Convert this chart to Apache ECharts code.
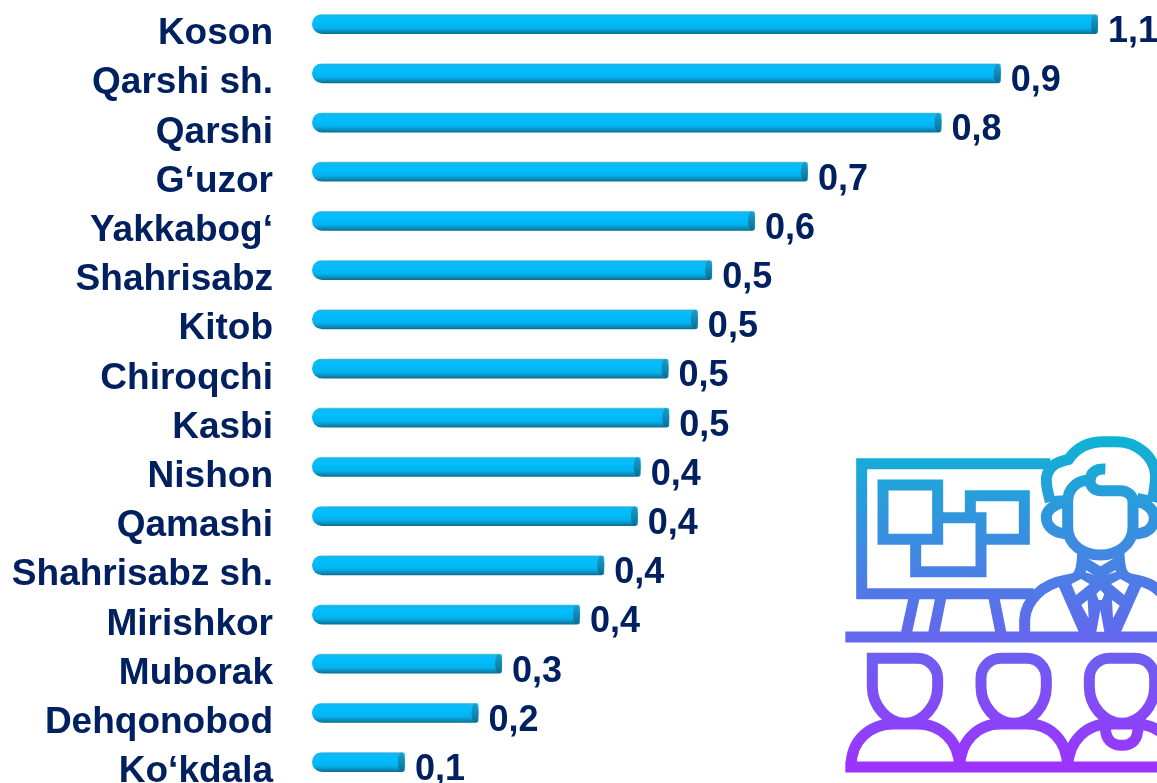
<!DOCTYPE html>
<html><head><meta charset="utf-8">
<style>html,body{margin:0;padding:0;background:#fff}#c{width:1157px;height:783px}</style>
<script src="https://cdn.jsdelivr.net/npm/echarts@6/dist/echarts.min.js"></script>
</head><body><div id="c"></div>
<script>
const categories = ['Koson','Qarshi sh.','Qarshi','G‘uzor','Yakkabog‘','Shahrisabz','Kitob','Chiroqchi','Kasbi','Nishon','Qamashi','Shahrisabz sh.','Mirishkor','Muborak','Dehqonobod','Ko‘kdala'];
const barValues = [1.1,0.964,0.881,0.694,0.62,0.56,0.54,0.499,0.5,0.46,0.456,0.409,0.375,0.266,0.233,0.13];
const valueLabels = ['1,1','0,9','0,8','0,7','0,6','0,5','0,5','0,5','0,5','0,4','0,4','0,4','0,4','0,3','0,2','0,1'];

const FONT = '"Liberation Sans", Arial, sans-serif';
const NAVY = '#002060';

const iconPaths = [
 'M640,101 L74,101 L74,491 L590,491',
 'M138,165 H302 V328 H138 Z',
 'M302,263 H432 V425 H236 V328',
 'M400,263 V197 H562 V328 H432',
 'M232,500 L208,610','M312,500 L290,610','M470,500 L492,610',
 'M25,621 H960',
 'M563,610 V570 C565,510 620,462 680,452 L705,447 C728,443 735,420 737,370',
 'M846,370 C848,420 855,443 880,447 L905,452 C935,458 955,470 975,490',
 'M692,215 V290 C692,345 740,375 790,375 C840,375 888,345 888,290 V215 C888,195 870,182 850,182 H790 C770,182 756,165 760,145 C764,125 780,116 805,117',
 'M692,215 C692,175 720,152 755,150',
 'M680,215 C650,225 628,240 628,262 C628,295 660,312 695,312',
 'M900,215 C930,220 952,240 952,262 C952,295 930,312 885,312',
 'M640,215 C630,180 625,150 630,135 C640,100 670,95 695,88 C720,50 760,35 800,35 H840 C900,35 950,80 955,130 C958,160 950,190 945,215',
 'M640,215 L680,212','M900,205 L945,215',
 'M745,400 L790,428 L838,400',
 'M680,462 L745,610','M898,462 L832,610',
 'M25,1011 H960',
 'M106,685 H240 C275,685 302,712 302,745 V770 C302,825 258,880 204,880 C150,880 106,825 106,770 Z',
 'M42,1010 C42,930 100,882 170,882 H240 C310,882 365,930 368,1010',
 'M492,685 H568 C605,685 628,712 628,745 V770 C628,825 585,880 530,880 C475,880 432,825 432,770 V745 C432,712 458,685 492,685 Z',
 'M368,1010 C370,930 425,882 490,882 H570 C640,882 690,930 692,1010',
 'M817,685 H893 C930,685 953,712 953,745 V770 C953,825 910,880 855,880 C800,880 757,825 757,770 V745 C757,712 783,685 817,685 Z',
 'M692,1010 C695,930 750,882 815,882 H895 C965,882 1015,930 1018,1010',
 'M805,890 C805,930 825,946 855,946 C885,946 903,930 903,890'
];
const tieArea = 'M672,465 L740,425 L790,440 L838,425 L905,465 L848,610 L735,610 Z';
const tieHoles = [
 'M703,462 L732,447 L758,462 L717,495 Z',
 'M822,462 L850,447 L877,462 L862,495 Z',
 'M790,480 L778,492 L785,510 L795,510 L802,492 Z',
 'M733,525 L752,510 L755,565 Z',
 'M825,510 L848,527 L828,565 Z',
 'M790,540 L778,605 L802,605 Z'
];

const iconGrad = {type:'linear',x:0,y:20,x2:0,y2:1030,global:true,colorStops:[
 {offset:0,color:'#0cb4d4'},{offset:0.3,color:'#3a8ee0'},{offset:0.6,color:'#6566ee'},{offset:1,color:'#a030ff'}]};

echarts.graphic.registerShape('classroomIcon', echarts.graphic.extendPath(iconPaths.join(' '), {}));
echarts.graphic.registerShape('tieArea', echarts.graphic.extendPath(tieArea, {}));
echarts.graphic.registerShape('tieHoles', echarts.graphic.extendPath(tieHoles.join(' '), {}));

const chart = echarts.init(document.getElementById('c'),null,{renderer:'canvas'});
chart.setOption({
 backgroundColor:'#fff',
 animation:false,
 grid:{left:312,width:786,top:-0.6,height:787.2,containLabel:false,outerBoundsMode:'none'},
 xAxis:{type:'value',min:0,max:1.1,show:false},
 yAxis:{type:'category',data:categories,inverse:true,
  axisLine:{show:false},axisTick:{show:false},splitLine:{show:false},
  axisLabel:{margin:39,color:NAVY,fontFamily:FONT,fontWeight:'bold',fontSize:37,verticalAlign:'top',lineHeight:20}},
 series:[
  {type:'bar',data:barValues,barWidth:20,silent:true,
   itemStyle:{borderRadius:[10,3,3,10],
    color:{type:'linear',x:0,y:0,x2:0,y2:1,colorStops:[
     {offset:0,color:'#b5dfec'},{offset:0.06,color:'#18b6ea'},{offset:0.3,color:'#00bfff'},{offset:0.7,color:'#04b2ee'},{offset:0.9,color:'#0a86b2'},{offset:1,color:'#0c6a8e'}]}},
   label:{show:true,position:'right',distance:10,offset:[0,8],color:NAVY,fontFamily:FONT,fontWeight:'bold',fontSize:36,
    formatter:p=>valueLabels[p.dataIndex]}},
  {type:'pictorialBar',data:barValues,symbol:'circle',symbolSize:[7,19],symbolPosition:'end',symbolOffset:[0,0],silent:true,z:3,
   itemStyle:{color:{type:'linear',x:0,y:0,x2:0,y2:1,colorStops:[{offset:0,color:'#1b9cc8'},{offset:0.6,color:'#0f86b0'},{offset:1,color:'#0c6a8e'}]}}}
 ],
 graphic:[{type:'group',x:837,y:430,scaleX:1/3,scaleY:1/3,silent:true,
  children:[
   {type:'tieArea',style:{fill:iconGrad,stroke:'none'}},
   {type:'classroomIcon',style:{fill:'none',stroke:iconGrad,lineWidth:33,lineJoin:'miter',lineCap:'butt'}},
   {type:'tieHoles',style:{fill:'#ffffff',stroke:'none'}}
  ]}]
});
</script></body></html>
